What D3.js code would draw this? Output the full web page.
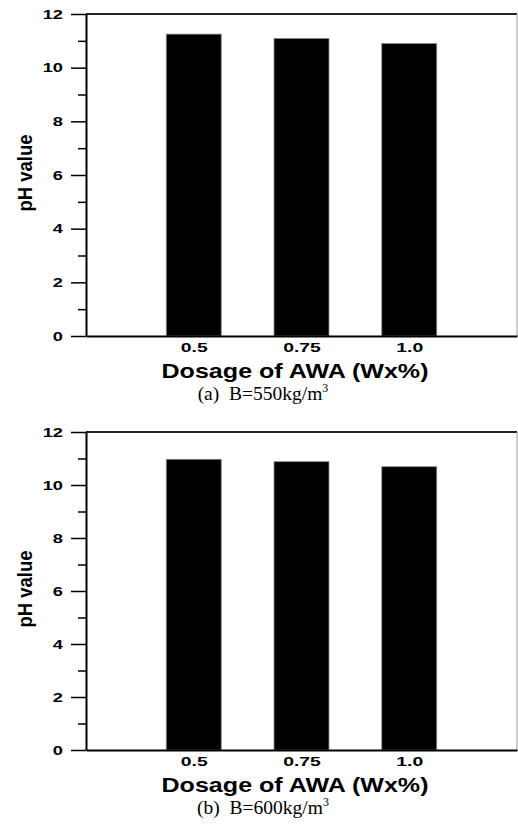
<!DOCTYPE html>
<html>
<head>
<meta charset="utf-8">
<script src="https://cdn.jsdelivr.net/npm/d3@7"></script>
<style>
  body { margin: 0; background: #fff; }
</style>
</head>
<body>
<div class="chart"></div>
<script>
const categories = ['0.5', '0.75', '1.0'];
const phA = [11.25, 11.09, 10.9];
const phB = [10.97, 10.88, 10.69];
const yTicks = [0, 2, 4, 6, 8, 10, 12];
const yMinorTicks = [1, 3, 5, 7, 9, 11];
const captionLetters = ['(a)', '(b)'];
const captionTexts = ['B=550kg/m', 'B=600kg/m'];
const xTitle = 'Dosage of AWA (Wx%)';
const yTitle = 'pH value';

const width = 518;
const height = 836;
const left = 86;
const right = 517;
const sans = 'Liberation Sans, Arial, sans-serif';

const svg = d3
  .select('.chart')
  .append('svg')
  .attr('width', width)
  .attr('height', height);

// stretch text horizontally like the original figure
function stretch(sel, f) {
  sel.each(function () {
    const t = d3.select(this);
    const x0 = +t.attr('x') || 0;
    t.attr('x', x0 / f).attr('transform', `scale(${f},1)`);
  });
}

function drawPanel(values, top, bottom, i) {
  const g = svg.append('g');

  const x = d3
    .scaleLinear()
    .domain([0, categories.length + 1])
    .range([left, right]);
  const y = d3.scaleLinear().domain([0, 12]).range([bottom, top]);
  const barW = x(0.51) - x(0);

  g.selectAll('rect')
    .data(values)
    .enter()
    .append('rect')
    .attr('x', (d, j) => x(j + 1) - barW / 2)
    .attr('y', (d) => y(d))
    .attr('width', barW)
    .attr('height', (d) => y(0) - y(d))
    .attr('fill', 'black')
    .attr('stroke', '#888')
    .attr('stroke-width', 0.8);

  // frame: top thick, right thin
  g.append('line')
    .attr('x1', left)
    .attr('x2', right)
    .attr('y1', y(12))
    .attr('y2', y(12))
    .attr('stroke', '#222')
    .attr('stroke-width', 2);
  g.append('line')
    .attr('x1', right)
    .attr('x2', right)
    .attr('y1', y(12))
    .attr('y2', y(0))
    .attr('stroke', '#999')
    .attr('stroke-width', 1);

  // minor ticks
  const minor = g
    .append('g')
    .attr('transform', `translate(${left},0)`)
    .call(d3.axisLeft(y).tickValues(yMinorTicks).tickSize(8).tickFormat(''));
  minor.select('.domain').remove();
  minor.selectAll('line').attr('stroke-width', 1.5);

  const yAxis = g
    .append('g')
    .attr('transform', `translate(${left},0)`)
    .call(
      d3
        .axisLeft(y)
        .tickValues(yTicks)
        .tickSize(15)
        .tickSizeOuter(0)
        .tickPadding(8)
        .tickFormat(d3.format('d'))
    );
  yAxis.select('.domain').attr('stroke-width', 2);
  yAxis.selectAll('line').attr('stroke-width', 1.5);
  yAxis
    .selectAll('text')
    .attr('font-family', sans)
    .attr('font-weight', 'bold')
    .attr('font-size', 13.5)
    .attr('fill', 'black')
    .call(stretch, 1.35);

  const xAxis = g
    .append('g')
    .attr('transform', `translate(0,${bottom})`)
    .call(
      d3
        .axisBottom(x)
        .tickValues([1, 2, 3])
        .tickFormat((d) => categories[d - 1])
        .tickSize(0)
        .tickSizeOuter(0)
        .tickPadding(7)
    );
  xAxis.select('.domain').attr('stroke-width', 2);
  xAxis
    .selectAll('text')
    .attr('font-family', sans)
    .attr('font-weight', 'bold')
    .attr('font-size', 12.5)
    .attr('fill', 'black')
    .call(stretch, 1.55);

  // axis titles
  g.append('text')
    .attr('x', 295)
    .attr('y', bottom + 42)
    .attr('text-anchor', 'middle')
    .attr('font-family', sans)
    .attr('font-weight', 'bold')
    .attr('font-size', 20.5)
    .attr('textLength', 267)
    .attr('lengthAdjust', 'spacingAndGlyphs')
    .text(xTitle);

  g.append('text')
    .attr('transform', `translate(32,${(top + bottom) / 2 - 2}) rotate(-90)`)
    .attr('text-anchor', 'middle')
    .attr('font-family', sans)
    .attr('font-weight', 'bold')
    .attr('font-size', 21)
    .attr('textLength', 77)
    .attr('lengthAdjust', 'spacingAndGlyphs')
    .text(yTitle);

  // caption
  const cap = g
    .append('text')
    .attr('x', 263)
    .attr('y', bottom + 64)
    .attr('text-anchor', 'middle')
    .attr('font-family', 'Liberation Serif, Times New Roman, serif')
    .attr('font-size', 19.5);
  cap.append('tspan').text(captionLetters[i] + '\u00a0\u00a0' + captionTexts[i]);
  cap.append('tspan').attr('font-size', 12).attr('dy', -8).text('3');
}

drawPanel(phA, 14, 336, 0);
drawPanel(phB, 432, 750, 1);
</script>
</body>
</html>
